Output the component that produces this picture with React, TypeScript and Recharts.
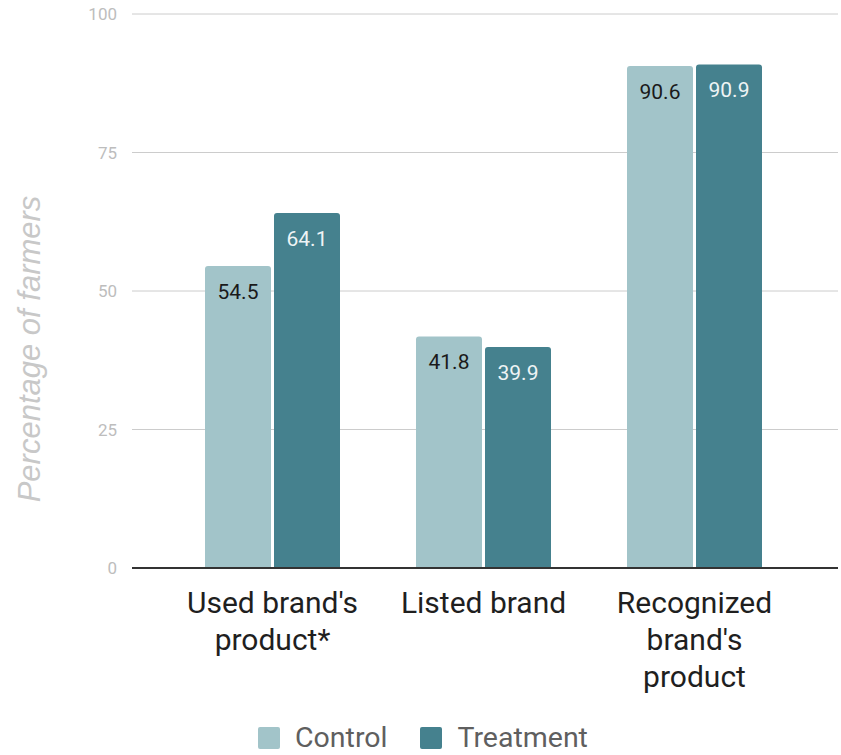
import React from "react";
import { BarChart, Bar, XAxis, YAxis, CartesianGrid, LabelList, Legend } from "recharts";

const categories = ["Used brand's\nproduct*", "Listed brand", "Recognized\nbrand's\nproduct"];
const controlValues = [54.5, 41.8, 90.6];
const treatmentValues = [64.1, 39.9, 90.9];
const yTicks = [0, 25, 50, 75, 100];
const seriesNames = ["Control", "Treatment"];
const seriesColors = ["#a2c4c9", "#45818e"];
const labelColors = ["#1a1a1a", "#eef4f5"];

const data = categories.map((c, i) => ({
  name: c,
  Control: controlValues[i],
  Treatment: treatmentValues[i],
}));

const FONT = "Roboto, 'Noto Sans', sans-serif";

const XTick = (props: any) => {
  const { x, y, payload } = props;
  const lines = String(payload.value).split("\n");
  return (
    <g>
      {lines.map((ln: string, i: number) => (
        <text
          key={i}
          x={x}
          y={y + 37 + i * 37}
          textAnchor="middle"
          fontFamily={FONT}
          fontSize={30}
          fill="#1f1f1f"
        >
          {ln}
        </text>
      ))}
    </g>
  );
};

const makeLabel = (color: string) => (props: any) => {
  const { x, y, width, value } = props;
  return (
    <text
      x={x + width / 2}
      y={y + 26}
      textAnchor="middle"
      dominantBaseline="central"
      fontFamily={FONT}
      fontSize={21}
      fill={color}
    >
      {value}
    </text>
  );
};

const LegendContent = () => (
  <div
    style={{
      display: "flex",
      justifyContent: "center",
      alignItems: "center",
      fontFamily: FONT,
      transform: "translate(4px, 1px)",
    }}
  >
    {seriesNames.map((n, i) => (
      <div key={n} style={{ display: "flex", alignItems: "center", marginRight: i === 0 ? 33 : 0 }}>
        <div style={{ width: 22, height: 22, background: seriesColors[i], borderRadius: 2, marginRight: 15 }} />
        <span style={{ fontSize: 28.5, color: "#5f5f5f", lineHeight: "28px" }}>{n}</span>
      </div>
    ))}
  </div>
);

export default function App() {
  return (
    <div style={{ position: "absolute", left: 0, top: 0, width: 841, height: 755, background: "#fff" }}>
      <BarChart
        width={841}
        height={755}
        data={data}
        margin={{ top: 14, right: 3, left: 0, bottom: 0 }}
        barGap={3}
        barSize={66}
      >
        <CartesianGrid vertical={false} stroke="#cccccc" strokeWidth={1} />
        <XAxis
          dataKey="name"
          interval={0}
          padding={{ left: 35, right: 38 }}
          axisLine={{ stroke: "#333333", strokeWidth: 2 }}
          tickLine={false}
          tick={<XTick />}
          height={155}
        />
        <YAxis
          domain={[0, 100]}
          ticks={yTicks}
          width={132}
          axisLine={false}
          tickLine={false}
          tickMargin={9}
          tick={{ fontFamily: FONT, fontSize: 17, fill: "#bdbdbd" }}
          label={{
            value: "Percentage of farmers",
            angle: -90,
            position: "insideLeft",
            dx: 24,
            dy: 58,
            style: { fontFamily: "'Liberation Sans', Arial, sans-serif", fontStyle: "italic", fontSize: 31, fill: "#c8c8c8", textAnchor: "middle" },
          }}
        />
        <Legend verticalAlign="bottom" height={32} content={<LegendContent />} />
        <Bar dataKey="Control" fill={seriesColors[0]} radius={[3, 3, 0, 0]} isAnimationActive={false}>
          <LabelList dataKey="Control" content={makeLabel(labelColors[0])} />
        </Bar>
        <Bar dataKey="Treatment" fill={seriesColors[1]} radius={[3, 3, 0, 0]} isAnimationActive={false}>
          <LabelList dataKey="Treatment" content={makeLabel(labelColors[1])} />
        </Bar>
      </BarChart>
    </div>
  );
}
